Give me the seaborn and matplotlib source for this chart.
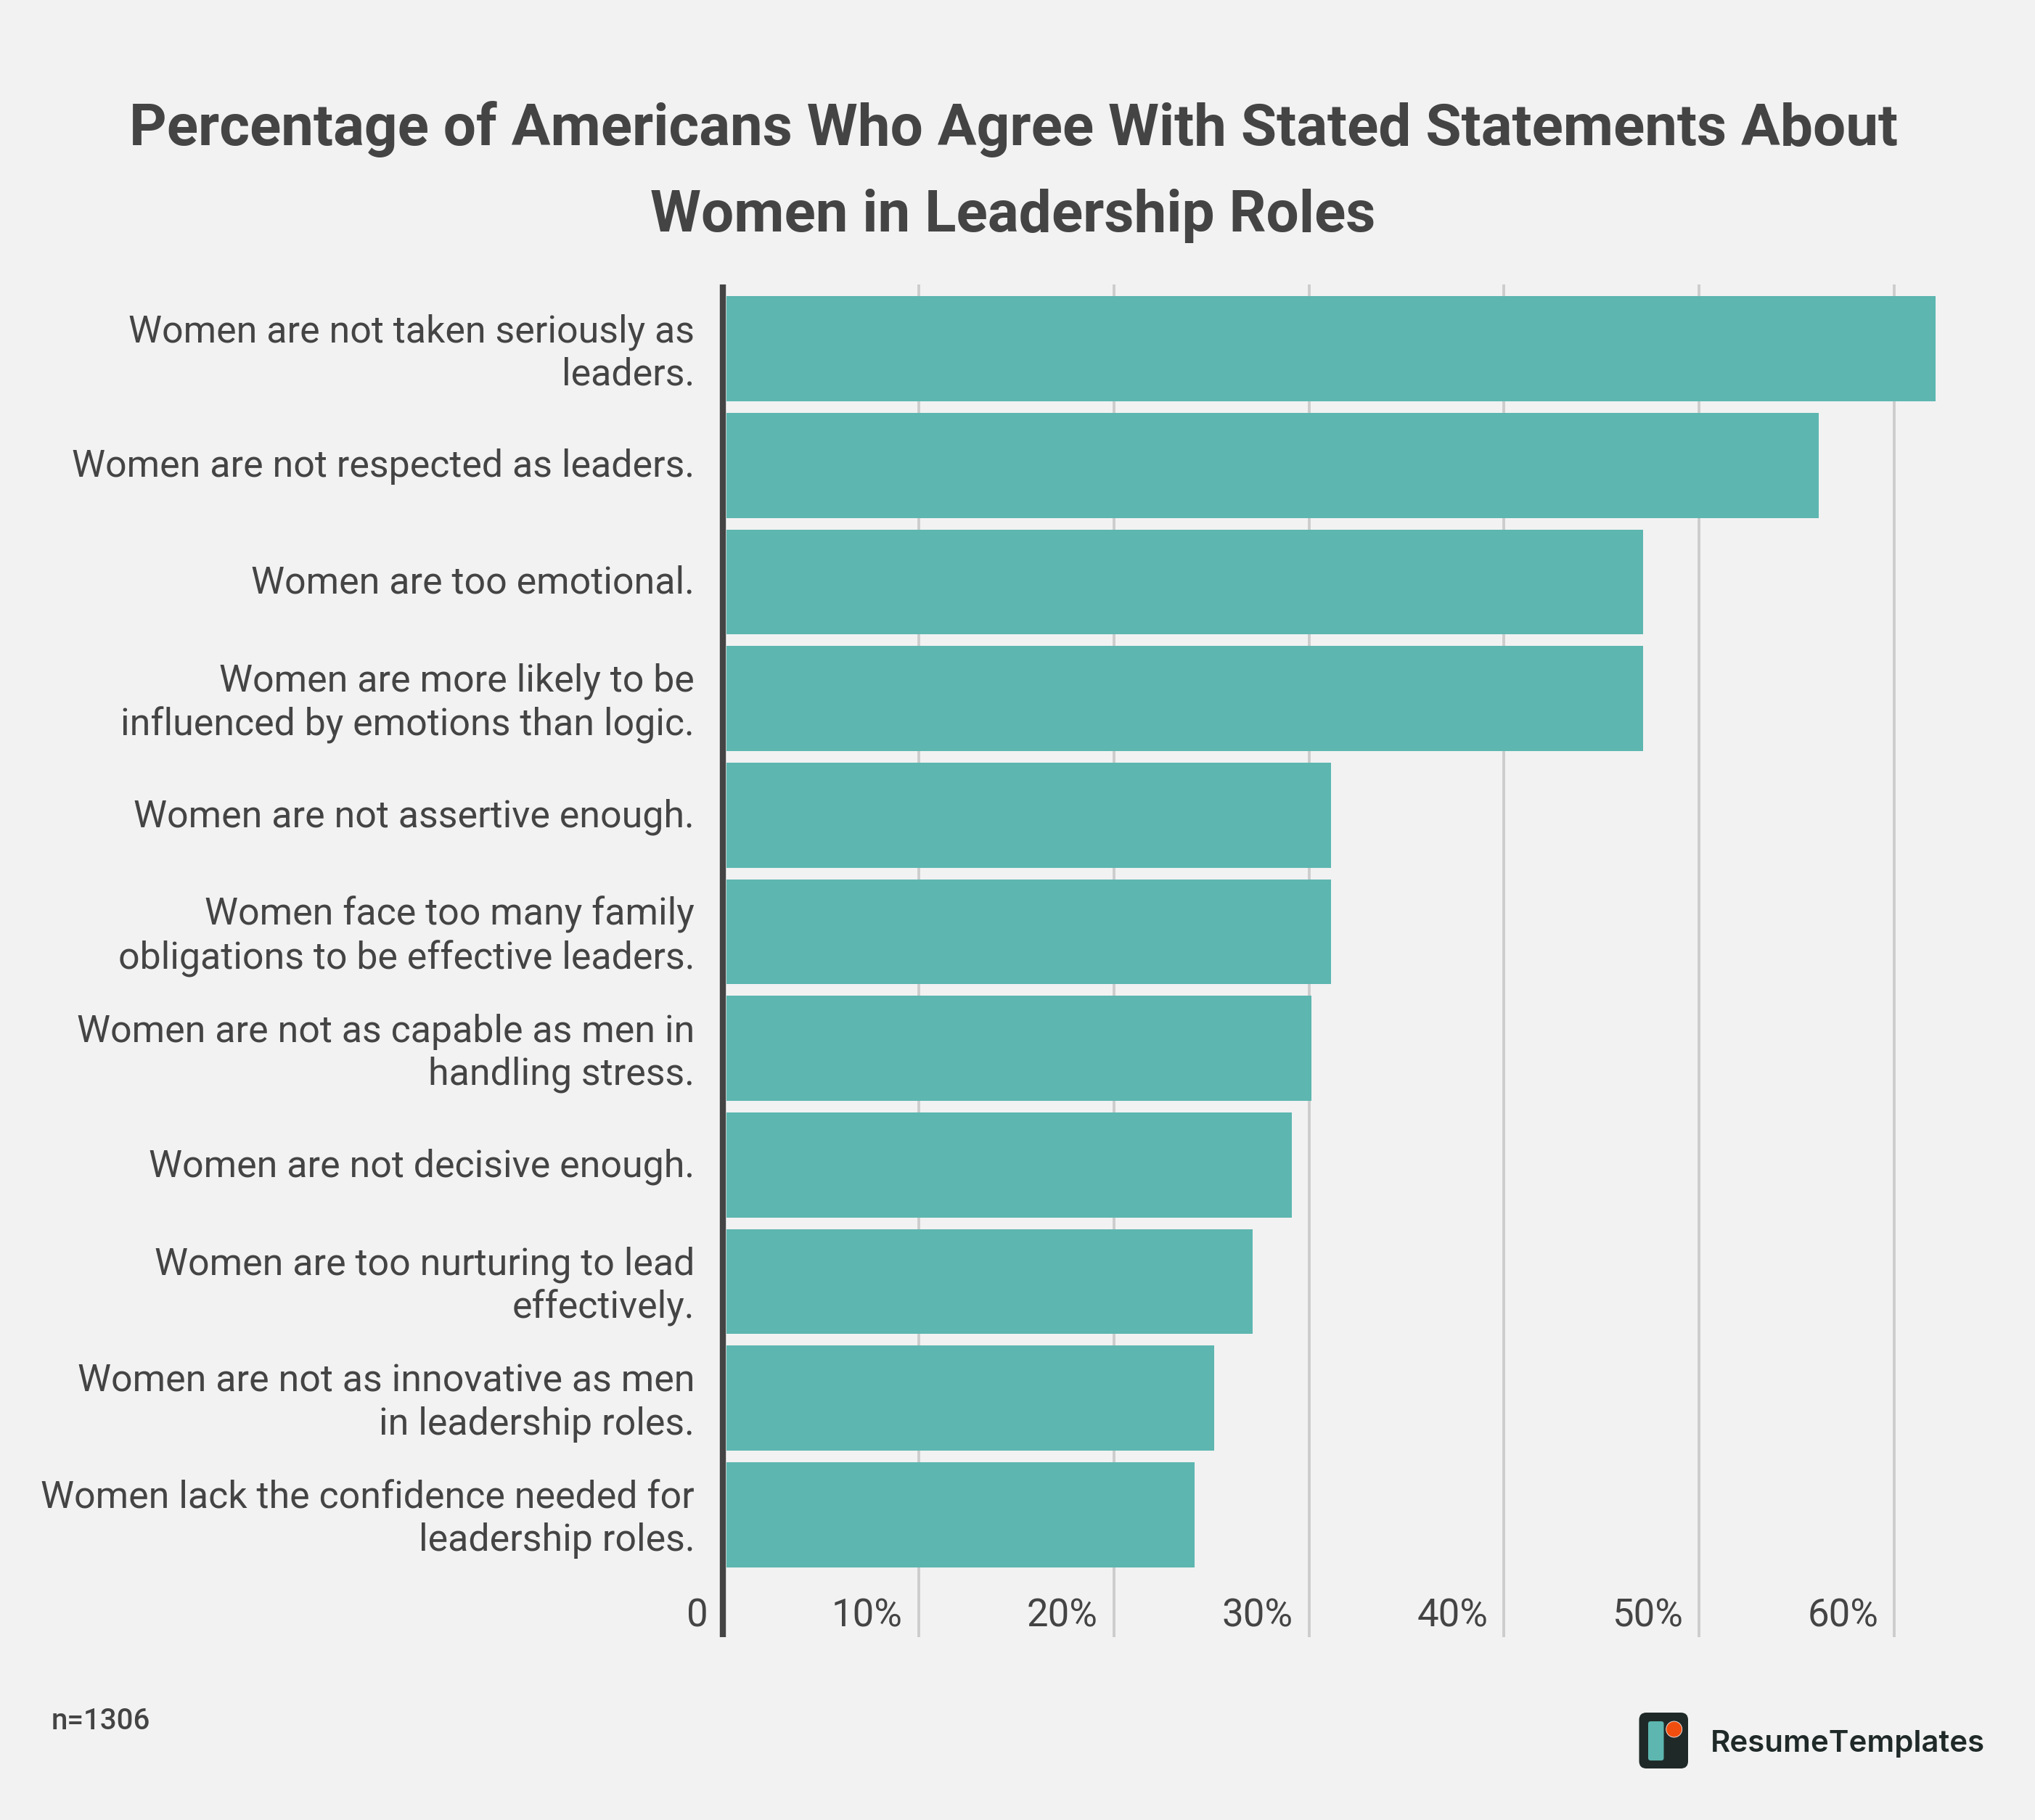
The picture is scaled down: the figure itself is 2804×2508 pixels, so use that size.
import matplotlib
matplotlib.use("Agg")
import matplotlib.pyplot as plt
import seaborn as sns
import pandas as pd
from matplotlib.patches import FancyBboxPatch, Ellipse
from matplotlib.transforms import ScaledTranslation

statements = [
    "Women are not taken seriously as\nleaders.",
    "Women are not respected as leaders.",
    "Women are too emotional.",
    "Women are more likely to be\ninfluenced by emotions than logic.",
    "Women are not assertive enough.",
    "Women face too many family\nobligations to be effective leaders.",
    "Women are not as capable as men in\nhandling stress.",
    "Women are not decisive enough.",
    "Women are too nurturing to lead\neffectively.",
    "Women are not as innovative as men\nin leadership roles.",
    "Women lack the confidence needed for\nleadership roles.",
]
percent = [62, 56, 47, 47, 31, 31, 30, 29, 27, 25, 24]
x_ticks = [0, 10, 20, 30, 40, 50, 60]
x_labels = ["0", "10%", "20%", "30%", "40%", "50%", "60%"]
title_lines = ["Percentage of Americans Who Agree With Stated Statements About",
               "Women in Leadership Roles"]
note = "n=1306"
brand = "ResumeTemplates"

W, H = 2804, 2508
DPI = 100
BG = "#f2f2f2"
INK = "#444444"
TEAL = "#5db6b0"
px = 72 / DPI

sns.set_theme(style="white", rc={"font.family": "Roboto"})
plt.rcParams["font.family"] = ["Roboto", "DejaVu Sans"]

fig = plt.figure(figsize=(W / DPI, H / DPI), dpi=DPI, facecolor=BG)
L, R, T, B = 997.2, 2750, 392, 2256
ax = fig.add_axes([L / W, 1 - B / H, (R - L) / W, (B - T) / H], facecolor=BG)

df = pd.DataFrame({"statement": statements, "percent": percent})
sns.barplot(data=df, x="percent", y="statement", orient="h", color=TEAL,
            saturation=1, width=0.9, linewidth=0, ax=ax)

# bars start at the right edge of the axis line in the reference
shift = ScaledTranslation(3.3 / DPI, 0, fig.dpi_scale_trans)
for p in ax.patches:
    p.set_transform(ax.transData + shift)

ax.set_xlim(0, (R - L) / 26.88)
ax.set_ylim(11.049, -0.5507)
ax.set_xlabel("")
ax.set_ylabel("")
ax.set_axisbelow(True)
ax.xaxis.grid(True, color="#cccccc", linewidth=3.8 * px, solid_capstyle="butt")
ax.yaxis.grid(False)
for s in ["top", "right", "bottom"]:
    ax.spines[s].set_visible(False)
ax.spines["left"].set_color(INK)
ax.spines["left"].set_linewidth(8.4 * px)
ax.spines["left"].set_capstyle("butt")
ax.spines["left"].set_position(("outward", 1.0 * px))

ax.set_xticks(x_ticks, x_labels)
ax.tick_params(axis="x", length=0, pad=-15 * px, labelsize=38, labelcolor=INK)
ax.tick_params(axis="y", length=0, pad=39 * px, labelsize=37.4, labelcolor=INK)
label_shift = ScaledTranslation(-22 / DPI, 0, fig.dpi_scale_trans)
for lb in ax.get_xticklabels():
    lb.set_ha("right")
    lb.set_va("baseline")
    lb.set_transform(lb.get_transform() + label_shift)
ylabel_shift = ScaledTranslation(0, 3.5 / DPI, fig.dpi_scale_trans)
for lb in ax.get_yticklabels():
    lb.set_multialignment("right")
    lb.set_linespacing(1.23)
    lb.set_transform(lb.get_transform() + ylabel_shift)

# overlay in reference pixel coordinates for title, note and logo
ov = fig.add_axes([0, 0, 1, 1], facecolor="none")
ov.set_xlim(0, W)
ov.set_ylim(H, 0)
ov.axis("off")
ov.text(1396, 200, title_lines[0], ha="center", va="baseline", fontsize=57.6,
        fontweight="bold", color=INK)
ov.text(1396, 319, title_lines[1], ha="center", va="baseline", fontsize=57.6,
        fontweight="bold", color=INK)
ov.text(71, 2383, note, ha="left", va="baseline", fontsize=29,
        fontweight="medium", color=INK)

ov.add_patch(FancyBboxPatch((2266, 2367.5), 52.5, 62, boxstyle="round,pad=7.5,rounding_size=10",
                            fc="#1f2a28", ec="none"))
ov.add_patch(FancyBboxPatch((2273.5, 2374.5), 16.5, 49, boxstyle="round,pad=2.5,rounding_size=3.5",
                            fc=TEAL, ec="none"))
ov.add_patch(Ellipse((2306.7, 2383), 22, 22, fc="#f04e0f", ec="#f2f2f2", lw=0.6))
ov.text(2357, 2414, brand, ha="left", va="baseline", fontsize=30.2,
        fontfamily="Inter", fontweight="semibold", color="#1f2a28")

fig.savefig("out.png", dpi=DPI, facecolor=BG)
